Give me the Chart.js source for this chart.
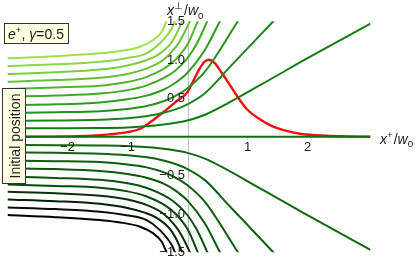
<!DOCTYPE html>
<html>
<head>
<meta charset="utf-8">
<script src="https://cdn.jsdelivr.net/npm/chart.js@4"></script>
<style>
  html, body { margin: 0; padding: 0; background: #fff; }
  canvas { display: block; }
</style>
</head>
<body>
<canvas id="orbitChart" width="415" height="262"></canvas>
<script>
// trajectories above the axis as [x+, x_perp] pairs
// (the lower half of the picture is the mirror image of these)
const path10 = [[-3, 1.018], [-2.2, 1.045], [-1.46, 1.083], [-1.12, 1.113], [-0.79, 1.169], [-0.57, 1.256], [-0.43, 1.364], [-0.35, 1.5], [-0.3, 1.6]];
const path09 = [[-3, 0.918], [-2.2, 0.94], [-1.46, 0.974], [-1.02, 1.02], [-0.68, 1.083], [-0.46, 1.213], [-0.26, 1.41], [-0.21, 1.5], [-0.17, 1.58]];
const path08 = [[-3, 0.814], [-2.2, 0.837], [-1.46, 0.872], [-1.0, 0.925], [-0.7, 0.99], [-0.5, 1.06], [-0.3, 1.19], [-0.2, 1.31], [-0.09, 1.5], [-0.02, 1.63]];
const path07 = [[-3, 0.714], [-2.2, 0.735], [-1.46, 0.766], [-1.0, 0.815], [-0.7, 0.88], [-0.4, 1.0], [-0.2, 1.16], [-0.1, 1.28], [0.04, 1.5], [0.12, 1.64]];
const path06 = [[-3, 0.62], [-2.2, 0.64], [-1.46, 0.662], [-1.0, 0.71], [-0.7, 0.77], [-0.4, 0.88], [-0.2, 1.0], [0, 1.2], [0.17, 1.5], [0.25, 1.66]];
const path05 = [[-3, 0.52], [-2.2, 0.535], [-1.46, 0.56], [-1.0, 0.605], [-0.7, 0.66], [-0.4, 0.76], [-0.2, 0.86], [0, 1.02], [0.15, 1.2], [0.33, 1.5], [0.4, 1.62]];
const path04 = [[-3, 0.41], [-2.2, 0.42], [-1.46, 0.445], [-1.0, 0.485], [-0.7, 0.53], [-0.4, 0.61], [-0.2, 0.7], [0, 0.83], [0.29, 1.126], [0.54, 1.5], [0.7, 1.74]];
const path03 = [[-3, 0.31], [-2.2, 0.318], [-1.46, 0.33], [-1.0, 0.36], [-0.7, 0.395], [-0.4, 0.46], [-0.2, 0.53], [0, 0.63], [0.29, 0.845], [0.84, 1.5], [1.1, 1.81]];
const path02 = [[-3, 0.205], [-2.2, 0.21], [-1.46, 0.22], [-1.0, 0.24], [-0.7, 0.265], [-0.4, 0.31], [-0.2, 0.355], [0, 0.42], [0.29, 0.564], [0.7, 0.9], [1.43, 1.5], [1.7, 1.72]];
const path01 = [[-3, 0.109], [-2.2, 0.11], [-1.46, 0.113], [-1.0, 0.12], [-0.7, 0.135], [-0.4, 0.158], [-0.2, 0.18], [0, 0.21], [0.29, 0.285], [1.21, 0.67], [2, 1.02], [3.05, 1.47]];
const path00 = [[-3, 0], [3.05, 0]];

// laser pulse envelope (red)
const pulseX = [-3, -2.5, -2, -1.6, -1.3, -1.0, -0.8, -0.6, -0.4, -0.2, 0, 0.1, 0.2, 0.28, 0.35, 0.45, 0.57, 0.7, 0.85, 1.0, 1.2, 1.4, 1.6, 1.9, 2.3, 2.7, 3.05];
const pulseY = [0, 0.001, 0.004, 0.012, 0.03, 0.06, 0.1, 0.2, 0.32, 0.45, 0.58, 0.73, 0.88, 0.97, 1.0, 0.96, 0.83, 0.68, 0.5, 0.35, 0.23, 0.14, 0.085, 0.035, 0.012, 0.003, 0];

const xTicks = [-2, -1, 1, 2];
const xTickLabels = ['\u22122', '\u22121', '1', '2'];
const yTicks = [1.5, 1.0, 0.5, -0.5, -1.0, -1.5];
const yTickLabels = ['1.5', '1.0', '0.5', '\u22120.5', '\u22121.0', '\u22121.5'];

// top to bottom: light green -> green -> black
const upperColors = ['#9ee04c', '#8cd744', '#7acd3b', '#65c133', '#52b52d', '#40a827', '#319c22', '#248f1e', '#1a851a', '#147a16'];
const axisColor = '#117014';
const lowerColors = ['#0f6812', '#0e6211', '#0d5c10', '#0c560f', '#0b500e', '#0a480d', '#0a300b', '#071e08', '#041004', '#000000'];

const upperPaths = [path10, path09, path08, path07, path06, path05, path04, path03, path02, path01];

function toPoints(path, sign) {
  return path.map(p => ({ x: p[0], y: sign * p[1] }));
}

function trajectory(points, color) {
  return {
    data: points,
    showLine: true,
    borderColor: color,
    borderWidth: 2,
    pointRadius: 0,
    cubicInterpolationMode: 'monotone',
    fill: false
  };
}

const datasets = [];
upperPaths.forEach((p, i) => datasets.push(trajectory(toPoints(p, 1), upperColors[i])));
datasets.push(trajectory(toPoints(path00, 1), axisColor));
upperPaths.slice().reverse().forEach((p, i) => datasets.push(trajectory(toPoints(p, -1), lowerColors[i])));
datasets.push({
  data: pulseX.map((x, i) => ({ x: x, y: pulseY[i] })),
  showLine: true,
  borderColor: '#ee1111',
  borderWidth: 2.4,
  pointRadius: 0,
  cubicInterpolationMode: 'monotone',
  fill: false
});

// draws pieces of text with italics / super- / subscripts
function richText(ctx, x, y, pieces, size) {
  let cx = x;
  pieces.forEach(p => {
    const s = p.sup || p.sub ? size * 0.7 : size;
    ctx.font = (p.it ? 'italic ' : '') + s + 'px "Liberation Sans", Arial, sans-serif';
    const dy = p.sup ? -size * 0.42 : (p.sub ? size * 0.25 : 0);
    ctx.fillText(p.t, cx, y + dy);
    cx += ctx.measureText(p.t).width + (p.gap || 0);
  });
}

const decorations = {
  id: 'decorations',
  beforeDatasetsDraw(chart) {
    const ctx = chart.ctx, area = chart.chartArea;
    const x0 = Math.round(chart.scales.x.getPixelForValue(0)) + 0.5;
    ctx.save();
    ctx.strokeStyle = '#c4c4c4';
    ctx.lineWidth = 1;
    ctx.beginPath();
    ctx.moveTo(x0, area.top);
    ctx.lineTo(x0, area.bottom);
    ctx.stroke();
    ctx.restore();
  },
  afterDatasetsDraw(chart) {
    const ctx = chart.ctx;
    const xs = chart.scales.x, ys = chart.scales.y;
    const x0 = xs.getPixelForValue(0), y0 = ys.getPixelForValue(0);
    ctx.save();
    ctx.fillStyle = '#1a1a1a';
    ctx.font = '13px "Liberation Sans", Arial, sans-serif';
    ctx.textAlign = 'center';
    ctx.textBaseline = 'middle';
    xTicks.forEach((v, i) => ctx.fillText(xTickLabels[i], xs.getPixelForValue(v), y0 + 11));
    ctx.textAlign = 'right';
    yTicks.forEach((v, i) => ctx.fillText(yTickLabels[i], x0 - 2.5, ys.getPixelForValue(v) + 0.5));

    ctx.textAlign = 'left';
    ctx.textBaseline = 'alphabetic';
    richText(ctx, 167, 15, [{ t: 'x', it: true }, { t: '\u22a5', sup: true, gap: 1 }, { t: '/' }, { t: 'w', it: true }, { t: '0', sub: true }], 14);
    richText(ctx, 380, 143.5, [{ t: 'x', it: true }, { t: '+', sup: true, gap: 1 }, { t: '/' }, { t: 'w', it: true }, { t: '0', sub: true }], 14);

    // note boxes
    ctx.fillStyle = '#ffffe2';
    ctx.strokeStyle = '#333';
    ctx.lineWidth = 1;
    ctx.fillRect(4.5, 23.5, 64, 20);
    ctx.strokeRect(4.5, 23.5, 64, 20);
    ctx.fillRect(2.5, 88.5, 23, 95);
    ctx.strokeRect(2.5, 88.5, 23, 95);

    ctx.fillStyle = '#1a1a1a';
    richText(ctx, 8, 39, [{ t: 'e', it: true }, { t: '+', sup: true }, { t: ', ' }, { t: '\u03b3', it: true }, { t: '=0.5' }], 14);

    ctx.translate(20, 136);
    ctx.rotate(-Math.PI / 2);
    ctx.textAlign = 'center';
    ctx.font = '14px "Liberation Sans", Arial, sans-serif';
    ctx.fillText('Initial position', 0, 0);
    ctx.restore();
  }
};

new Chart(document.getElementById('orbitChart'), {
  type: 'scatter',
  data: { datasets: datasets },
  options: {
    responsive: false,
    animation: false,
    layout: { padding: { left: 7.5, right: 44.5, top: 21.2, bottom: 9.8 } },
    scales: {
      x: { type: 'linear', min: -3, max: 3.05, display: false },
      y: { type: 'linear', min: -1.5, max: 1.5, display: false }
    },
    plugins: { legend: { display: false }, tooltip: { enabled: false } }
  },
  plugins: [decorations]
});
</script>
</body>
</html>
